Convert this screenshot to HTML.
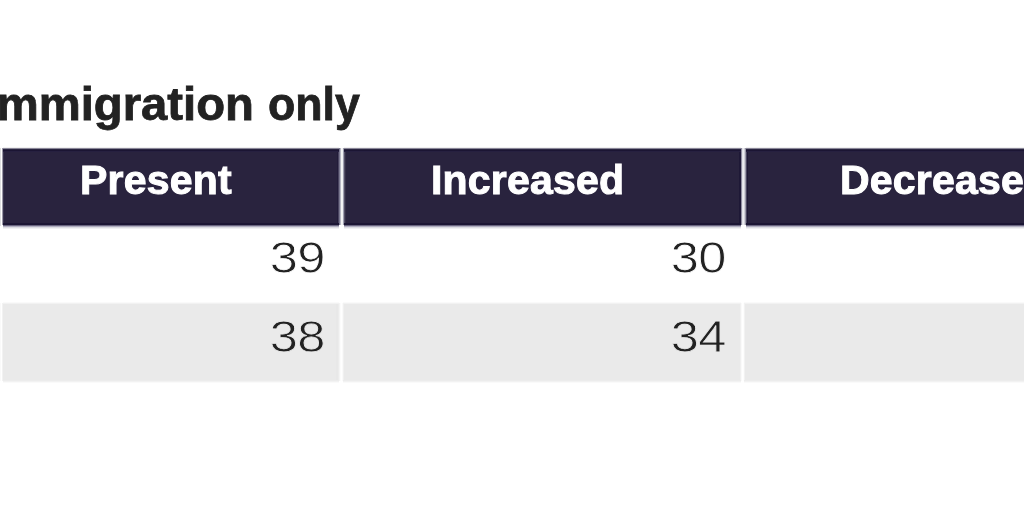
<!DOCTYPE html>
<html lang="en">
<head>
<meta charset="utf-8">
<title>Immigration only</title>
<style>
html, body { margin: 0; padding: 0; }
body { width: 1024px; height: 512px; overflow: hidden; background: #fff; position: relative;
  font-family: "Liberation Sans", Arial, sans-serif; }
#wrap { position: absolute; left: 0; top: 0; width: 1024px; height: 512px; overflow: hidden; }

/* caption */
.title { position: absolute; left: 0; top: 81px; margin: 0; font-weight: bold; font-size: 46px; color: #222;
  white-space: nowrap; line-height: 1; -webkit-text-stroke: 0.8px #222; }
.title span { position: absolute; top: 0; }
.w1 { left: -16px; transform-origin: 16px 0; transform: scaleX(1.027); }
.w2 { left: 267.6px; transform-origin: 0 0; transform: scaleX(0.972); }

/* header cells */
.hd { position: absolute; top: 148px; height: 77px; background: #29233e; }
.hd span { position: absolute; top: 12px; -webkit-text-stroke: 1px #fff; font-weight: bold; color: #fff; font-size: 41px;
  line-height: 1; white-space: nowrap; letter-spacing: 0.2px; }
.hA { left: 3px; width: 336px;
  box-shadow: inset 0 1px 0 #8a8799, inset 0 2px 0 #2a2540, inset 0 3px 0 #1b1533, inset 0 4px 0 #262040,
    inset 0 -2px 0 #1c1634,
    inset 1px 0 0 #3a3550, inset -1px 0 0 #4a4560, inset -2px 0 0 #221c3a,
    0 -1px 0 #f0f0f0, 0 1px 0 #6a6680, 0 2px 0 #b0aec0, 0 3px 0 #dcdce2, 0 4px 0 #f0f0f2,
    -1px 0 0 #9b98a8, 1px 0 0 #7a7890, 2px 0 0 #b8b8c4, 3px 0 0 #f4f4f4; }
.hB { left: 344px; width: 397px;
  box-shadow: inset 0 1px 0 #8a8799, inset 0 2px 0 #2a2540, inset 0 3px 0 #1b1533, inset 0 4px 0 #262040,
    inset 0 -2px 0 #1c1634,
    inset 1px 0 0 #555068, inset 2px 0 0 #353048, inset -2px 0 0 #1e1836,
    0 -1px 0 #f0f0f0, 0 1px 0 #6a6680, 0 2px 0 #b0aec0, 0 3px 0 #dcdce2, 0 4px 0 #f0f0f2,
    -1px 0 0 #a0a0b0, -2px 0 0 #f0f0f2, 1px 0 0 #8f8ca0, 2px 0 0 #e0e0e6, 3px 0 0 #ececf0; }
.hC { left: 746px; width: 300px;
  box-shadow: inset 0 1px 0 #8a8799, inset 0 2px 0 #2a2540, inset 0 3px 0 #1b1533, inset 0 4px 0 #262040,
    inset 0 -2px 0 #1c1634,
    inset 1px 0 0 #4a4560, inset 2px 0 0 #1e1836,
    0 -1px 0 #f0f0f0, 0 1px 0 #6a6680, 0 2px 0 #b0aec0, 0 3px 0 #dcdce2, 0 4px 0 #f0f0f2,
    -1px 0 0 #9a98a8, -2px 0 0 #d0d0d8; }
.edge0 { position: absolute; left: 0; width: 1px; }

/* shaded body row */
.row { position: absolute; top: 303px; height: 78px; background: #eaeaea; }
.rA { left: 3px; width: 336px;
  box-shadow: inset 0 1px 0 #f2f2f2, inset 0 -1px 0 #ececec, inset -1px 0 0 #ececec, inset -3px 0 0 #e8e8e8,
    0 -1px 0 #fafafa, 0 1px 0 #f2f2f2, 0 2px 0 #fafafa,
    -1px 0 0 #f2f2f2, 1px 0 0 #f4f4f4, 2px 0 0 #fcfcfc; }
.rB { left: 343px; width: 398px;
  box-shadow: inset 0 1px 0 #f2f2f2, inset 0 -1px 0 #ececec, inset 1px 0 0 #f0f0f0, inset -1px 0 0 #f0f0f0,
    0 -1px 0 #fafafa, 0 1px 0 #f2f2f2, 0 2px 0 #fafafa,
    -1px 0 0 #fafafa, 1px 0 0 #fafafa; }
.rC { left: 744px; width: 300px;
  box-shadow: inset 0 1px 0 #f2f2f2, inset 0 -1px 0 #ececec, inset 1px 0 0 #f2f2f2,
    0 -1px 0 #fafafa, 0 1px 0 #f2f2f2, 0 2px 0 #fafafa,
    -1px 0 0 #fdfdfd; }

/* numbers */
.num { position: absolute; font-size: 44px; color: #222; line-height: 1; white-space: nowrap;
  transform: scaleX(1.15); transform-origin: 100% 0; letter-spacing: -0.6px; -webkit-text-stroke: 0.8px #fff; }
.r2 { -webkit-text-stroke-color: #eaeaea; }
</style>
</head>
<body>
<div id="wrap">
<h2 class="title"><span class="w1">Immigration</span> <span class="w2">only</span></h2>

<div class="edge0" style="top:148px;height:78px;background:#dedee0"></div>
<div class="hd hA"><span style="left:77px">Present</span></div>
<div class="hd hB"><span style="left:87px">Increased</span></div>
<div class="hd hC"><span style="left:94px">Decreased</span></div>

<div class="edge0" style="top:303px;height:78px;background:#fafafa"></div>
<div class="row rA"></div>
<div class="row rB"></div>
<div class="row rC"></div>

<span class="num" style="right:699.5px;top:236px">39</span>
<span class="num" style="right:298px;top:236px">30</span>
<span class="num r2" style="right:699.5px;top:315px">38</span>
<span class="num r2" style="right:298px;top:315px">34</span>
</div>
</body>
</html>
